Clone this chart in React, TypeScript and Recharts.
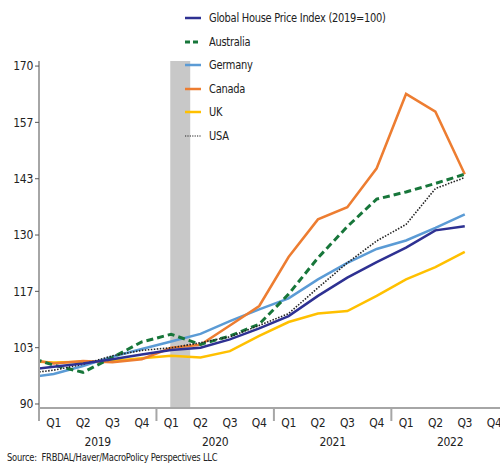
import React from 'react';
import { LineChart, Line, XAxis, YAxis, ReferenceArea } from 'recharts';

// Quarterly periods (first point, 2018 Q4, sits left of the visible plot edge)
const periods = [
  '2018 Q4', '2019 Q1', '2019 Q2', '2019 Q3', '2019 Q4',
  '2020 Q1', '2020 Q2', '2020 Q3', '2020 Q4',
  '2021 Q1', '2021 Q2', '2021 Q3', '2021 Q4',
  '2022 Q1', '2022 Q2', '2022 Q3',
];

const globalIndex = [98.0, 98.8, 99.6, 100.6, 101.7, 102.8, 103.3, 105.3, 107.9, 110.8, 115.6, 119.9, 123.6, 127.0, 131.1, 132.1];
const australia = [101.4, 99.2, 97.5, 101.0, 104.7, 106.5, 104.1, 106.1, 108.9, 116.0, 124.6, 132.0, 138.5, 140.2, 142.2, 144.4];
const germany = [96.1, 97.1, 99.0, 101.2, 103.0, 104.8, 106.6, 109.6, 112.4, 115.0, 119.5, 123.4, 126.7, 128.7, 131.7, 134.9];
const canada = [100.8, 99.6, 100.2, 99.9, 100.6, 103.3, 104.0, 108.6, 113.2, 124.8, 133.7, 136.6, 145.8, 163.4, 159.2, 144.4];
const uk = [100.2, 99.8, 100.0, 100.2, 100.8, 101.4, 101.0, 102.5, 106.1, 109.4, 111.4, 112.0, 115.6, 119.5, 122.4, 126.0];
const usa = [97.2, 98.0, 99.4, 101.4, 102.7, 103.3, 104.5, 105.9, 108.6, 111.4, 117.5, 123.4, 128.6, 132.5, 141.0, 143.6];

const quarterLabels = ['Q1', 'Q2', 'Q3', 'Q4'];
const yearLabels = ['2019', '2020', '2021', '2022'];
const yTicks = [90, 103.33, 116.67, 130, 143.33, 156.67, 170];

// Shaded COVID period (in quarter-index units)
const shadeStart = 4.97;
const shadeEnd = 5.65;

const sourceText = 'Source:  FRBDAL/Haver/MacroPolicy Perspectives LLC';

const FONT = "'Liberation Sans Narrow', 'DejaVu Sans Condensed', 'Liberation Sans', sans-serif";

const data = periods.map((p, i) => ({
  t: i,
  period: p,
  global: globalIndex[i],
  australia: australia[i],
  germany: germany[i],
  canada: canada[i],
  uk: uk[i],
  usa: usa[i],
}));

const series = [
  { key: 'global', name: 'Global House Price Index (2019=100)', color: '#2e3192', width: 2.5, dash: undefined as string | undefined },
  { key: 'australia', name: 'Australia', color: '#17763a', width: 3, dash: '7 4' },
  { key: 'germany', name: 'Germany', color: '#5b9bd5', width: 2.5, dash: undefined },
  { key: 'canada', name: 'Canada', color: '#ed7d31', width: 2.5, dash: undefined },
  { key: 'uk', name: 'UK', color: '#ffc000', width: 2.5, dash: undefined },
  { key: 'usa', name: 'USA', color: '#222222', width: 1.6, dash: '1.5 1.5' },
];

const drawOrder = ['germany', 'uk', 'canada', 'australia', 'usa', 'global'];

const quarterTicks: number[] = [];
const yearTicks: number[] = [];
const sepTicks: number[] = [];
yearLabels.forEach((_, yi) => {
  sepTicks.push(0.5 + yi * 4);
  quarterLabels.forEach((_, qi) => quarterTicks.push(1 + yi * 4 + qi));
  yearTicks.push(2.5 + yi * 4);
});
const allXTicks = [...sepTicks, ...quarterTicks, ...yearTicks].sort((a, b) => a - b);

const XTick = (props: any) => {
  const { x, y, payload } = props;
  const v = payload.value as number;
  if (Number.isInteger(v)) {
    const label = quarterLabels[(v - 1) % 4];
    return (
      <text x={x} y={y + 19} textAnchor="middle" fontSize={12} fontFamily={FONT} fill="#222" letterSpacing={-0.3}>
        {label}
      </text>
    );
  }
  if ((v - 0.5) % 4 === 0) {
    return <line x1={x} x2={x} y1={y} y2={y + 13} stroke="#a6a6a6" strokeWidth={2} />;
  }
  const label = yearLabels[Math.round((v - 2.5) / 4)];
  return (
    <text x={x} y={y + 38} textAnchor="middle" fontSize={12} fontFamily={FONT} fill="#222" letterSpacing={-0.3}>
      {label}
    </text>
  );
};

const LegendBox = () => (
  <div style={{ position: 'absolute', left: 185, top: 0, fontFamily: FONT, fontSize: 12, color: '#222', letterSpacing: -0.3 }}>
    {series.map((s, i) => (
      <div key={s.key} style={{ position: 'absolute', left: 0, top: 10 + i * 23.6, height: 16, display: 'flex', alignItems: 'center', whiteSpace: 'nowrap' }}>
        <svg width={16} height={16} style={{ marginRight: 8 }}>
          <line
            x1={0}
            x2={16}
            y1={8}
            y2={8}
            stroke={s.color}
            strokeWidth={s.key === 'usa' ? 1.2 : s.width}
            strokeDasharray={s.key === 'australia' ? '5 3' : s.key === 'usa' ? '1.2 1.2' : undefined}
          />
        </svg>
        <span style={{ display: 'inline-block', transform: 'scaleX(0.915)', transformOrigin: 'left center' }}>{s.name}</span>
      </div>
    ))}
  </div>
);

export default function App() {
  return (
    <div style={{ position: 'absolute', left: 0, top: 0, width: 500, height: 465, background: '#fff', overflow: 'hidden' }}>
      <LineChart width={500} height={465} data={data} margin={{ top: 61, right: 0, bottom: 0, left: 0 }}>
        <ReferenceArea x1={shadeStart} x2={shadeEnd} fill="#c8c8c8" fillOpacity={1} stroke="none" ifOverflow="visible" />
        <XAxis
          dataKey="t"
          type="number"
          domain={[0.5, 16.2]}
          allowDataOverflow
          ticks={allXTicks}
          interval={0}
          tickSize={0}
          tickMargin={0}
          tickLine={false}
          tick={<XTick />}
          height={57}
          axisLine={{ stroke: '#a6a6a6', strokeWidth: 2 }}
        />
        <YAxis
          type="number"
          domain={[89.05, 171.2]}
          allowDataOverflow
          ticks={yTicks}
          interval={0}
          width={39}
          tickSize={4}
          tickMargin={2}
          tickFormatter={(v: number) => String(Math.round(v))}
          tick={{ fontSize: 12, fontFamily: FONT, fill: '#222', letterSpacing: -0.3 }}
          tickLine={{ stroke: '#555' }}
          axisLine={{ stroke: '#a6a6a6', strokeWidth: 2 }}
        />
        {drawOrder.map((k) => {
          const s = series.find((x) => x.key === k)!;
          return (
            <Line
              key={s.key}
              type="linear"
              dataKey={s.key}
              name={s.name}
              stroke={s.color}
              strokeWidth={s.width}
              strokeDasharray={s.dash}
              dot={false}
              activeDot={false}
              isAnimationActive={false}
            />
          );
        })}
      </LineChart>
      <LegendBox />
      <div style={{ position: 'absolute', left: 7, top: 451, fontFamily: FONT, fontSize: 11, color: '#222', letterSpacing: -0.3, whiteSpace: 'pre', transform: 'scaleX(0.845)', transformOrigin: 'left center' }}>
        {sourceText}
      </div>
    </div>
  );
}
